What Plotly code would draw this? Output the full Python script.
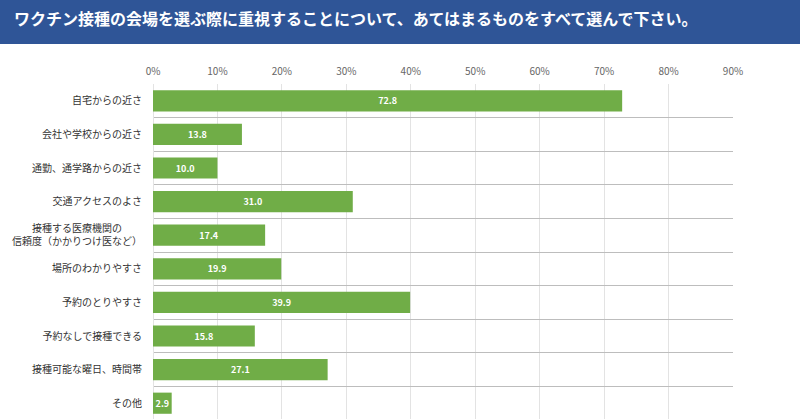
import plotly.graph_objects as go

categories = [
    "自宅からの近さ",
    "会社や学校からの近さ",
    "通勤、通学路からの近さ",
    "交通アクセスのよさ",
    "接種する医療機関の　　<br>信頼度（かかりつけ医など）",
    "場所のわかりやすさ",
    "予約のとりやすさ",
    "予約なしで接種できる",
    "接種可能な曜日、時間帯",
    "その他",
]
values = [72.8, 13.8, 10.0, 31.0, 17.4, 19.9, 39.9, 15.8, 27.1, 2.9]
tick_vals = [0, 10, 20, 30, 40, 50, 60, 70, 80, 90]
tick_text = [f"{v}%" for v in tick_vals]
title_text = "ワクチン接種の会場を選ぶ際に重視することについて、あてはまるものをすべて選んで下さい。"

FONT = "Noto Sans CJK JP"

fig = go.Figure()
fig.add_trace(go.Bar(
    x=values,
    y=categories,
    orientation="h",
    width=0.63,
    marker=dict(color="#70ad47", line=dict(width=0)),
    text=values,
    texttemplate="%{x:.1f}",
    textposition="inside",
    insidetextanchor="middle",
    textangle=0,
    constraintext="none",
    textfont=dict(family=FONT, size=9, color="#ffffff", weight="bold"),
    hoverinfo="skip",
))

W, H = 800, 419
L, R, T, B = 153, 67, 84, 0
pw, ph = W - L - R, H - T - B

# header band in paper coordinates
x0p = (0 - L) / pw
x1p = (W - L) / pw
y_top = 1 + (T - 0) / ph
y_bot = 1 + (T - 44) / ph
fig.add_shape(type="rect", xref="paper", yref="paper",
              x0=x0p, x1=x1p, y0=y_bot, y1=y_top,
              fillcolor="#2f5597", line=dict(width=0), layer="above")
fig.add_annotation(xref="paper", yref="paper", x=(12 - L) / pw, y=1 + (T - 18) / ph,
                   xanchor="left", yanchor="middle", showarrow=False,
                   text=title_text,
                   font=dict(family=FONT, size=16, color="#ffffff", weight="bold"))

row_h = 33.6
extra = (H - T) / row_h  # rows visible
fig.update_layout(
    width=W, height=H,
    margin=dict(l=L, r=R, t=T, b=B, pad=0),
    paper_bgcolor="#ffffff",
    plot_bgcolor="#ffffff",
    showlegend=False,
    xaxis=dict(
        side="top",
        range=[0, 90],
        tickvals=tick_vals,
        ticktext=tick_text,
        showgrid=True,
        gridcolor="#e3e3e3",
        gridwidth=1,
        zeroline=True,
        zerolinecolor="#e3e3e3",
        zerolinewidth=1,
        showline=False,
        ticks="",
        ticklabelstandoff=6,
        tickfont=dict(family=FONT, size=10, color="#666666"),
        fixedrange=True,
    ),
    yaxis=dict(
        autorange=False,
        range=[-0.5 + extra, -0.5],
        tickson="boundaries",
        showgrid=True,
        gridcolor="#bdbdbd",
        gridwidth=1,
        showline=False,
        ticks="",
        ticklabelstandoff=10,
        tickfont=dict(family=FONT, size=10, color="#333333"),
        fixedrange=True,
    ),
    font=dict(family=FONT),
)

fig.write_html("out.html", config={"displayModeBar": False},
               post_script="document.body.style.margin='0';document.body.style.padding='0';")
